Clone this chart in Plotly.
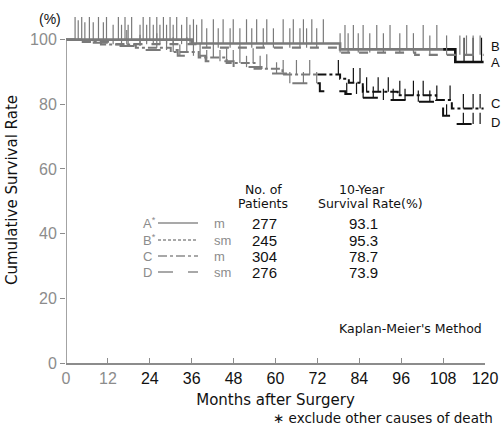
import plotly.graph_objects as go

# ---------------- data (months, %) ----------------
A_t = [0, 36, 78.5, 111.5]
A_s = [100, 98.8, 97.0, 93.1]
B_t = [0, 4, 12, 38, 78.5, 100]
B_s = [100, 99.4, 98.6, 97.5, 96.0, 95.3]
C_t = [0, 4, 10, 20, 30, 38, 46, 54, 62, 78.5, 81, 85, 95, 106, 110.5]
C_s = [100, 99.3, 98.5, 97.5, 96.2, 94.5, 92.8, 91.0, 89.2, 87.9, 86.7, 83.9, 82.8, 81.3, 78.7]
D_t = [0, 5, 12, 22, 32, 40, 48, 56, 64, 72.7, 80, 85, 90, 100, 106, 108, 110.5]
D_s = [100, 99.0, 98.0, 96.8, 95.0, 93.3, 91.5, 89.5, 86.5, 84.0, 83.2, 82.0, 81.3, 80.8, 79.5, 76.5, 73.9]

A_cens = [2.6, 4.5, 6.7, 9.3, 11.6, 15, 16.9, 18.8, 22.1, 24, 26, 27.9, 29.8, 31.7, 34.6, 36.5,
          38.9, 42.2, 45, 47.9, 51.7, 54.6, 57.5, 62.2, 65.1, 68, 70.4, 73.7, 79.9, 82.3, 85.1,
          89, 92.8, 97.6, 102.3, 106.2, 114, 116.6, 119]
B_cens = [3.5, 5.4, 7.8, 10.7, 13.5, 15.9, 17.8, 21.2, 23.1, 25, 26.9, 28.8, 30.7, 33.1, 35.5,
          37.4, 40.3, 43.6, 47, 49.8, 53.2, 56.5, 59.4, 64.1, 67, 68.9, 71.8, 78.5, 80.8, 83.7,
          87, 90.9, 95.6, 99.5, 104.2, 109, 112.8, 114.7, 116.6, 118.6]
C_cens = [17.4, 26, 30.7, 34.6, 38.4, 42.2, 46, 49.8, 53.6, 57.5, 62.2, 66, 69.8, 78,
          82.3, 84.2, 86.1, 89.4, 92.3, 95.6, 99.5, 102.3, 106.2, 110, 113.8, 116.6, 118.6]
D_cens = [21.2, 28.8, 32.6, 36.5, 40.3, 44.1, 47.9, 51.7, 55.6, 60.3, 64.1, 68, 71.8,
          80.4, 83.2, 85.1, 88, 90.9, 93.7, 97.1, 100.9, 104.2, 109, 113.8, 116.6, 118.6]

groups = ["A", "B", "C", "D"]
kinds = ["m", "sm", "m", "sm"]
n_patients = [277, 245, 304, 276]
rate10 = ["93.1", "95.3", "78.7", "73.9"]
x_ticks = [0, 12, 24, 36, 48, 60, 72, 84, 96, 108, 120]
y_ticks = [0, 20, 40, 60, 80, 100]

# ---------------- style ----------------
GRAY = "#8c8c8c"
DGRAY = "#7a7a7a"
BLACK = "#111111"
FONT = "Liberation Sans, Arial, sans-serif"
WFONT = "DejaVu Sans, Verdana, sans-serif"
T_END = 119.6

curves = [
    (A_t, A_s, A_cens, "solid", 108, 7.5, 2.6),
    (B_t, B_s, B_cens, "dash", 200, 6.0, 2.2),
    (C_t, C_s, C_cens, "dashdot", 72, 4.5, 2.0),
    (D_t, D_s, D_cens, "longdash", 72, 3.5, 2.0),
]


def surv_at(t, s, c):
    v = s[0]
    for ti, si in zip(t, s):
        if ti <= c:
            v = si
    return v


fig = go.Figure()
for (t, s, cens, dash, split, h, w) in curves:
    xs1 = [ti for ti in t if ti < split]
    ys1 = [si for ti, si in zip(t, s) if ti < split]
    end1 = min(split, T_END)
    xs1.append(end1)
    ys1.append(surv_at(t, s, end1))
    fig.add_trace(go.Scatter(x=xs1, y=ys1, mode="lines", line_shape="hv",
                             line=dict(color=DGRAY, width=w, dash=dash),
                             hoverinfo="skip", showlegend=False))
    if split < T_END:
        xs2 = [split] + [ti for ti in t if ti > split] + [T_END]
        ys2 = [surv_at(t, s, split)] + [si for ti, si in zip(t, s) if ti > split] + [s[-1]]
        fig.add_trace(go.Scatter(x=xs2, y=ys2, mode="lines", line_shape="hv",
                                 line=dict(color=BLACK, width=w, dash=dash),
                                 hoverinfo="skip", showlegend=False))
    for part, col in ((lambda c: c < split, DGRAY), (lambda c: c >= split, BLACK)):
        cx, cy = [], []
        for c in cens:
            if part(c):
                v = surv_at(t, s, c)
                cx += [c, c, None]
                cy += [v, v + h, None]
        if cx:
            fig.add_trace(go.Scatter(x=cx, y=cy, mode="lines",
                                     line=dict(color=col, width=1.2),
                                     hoverinfo="skip", showlegend=False))

L, R, T, B = 66, 485, 17, 363


def px(x):
    return (x - L) / (R - L)


def py(y):
    return (B - y) / (B - T)


shapes = [dict(type="line", xref="x", yref="y", x0=0, x1=0, y0=0, y1=100,
               line=dict(color=GRAY, width=1.6))]
ann = []
end_label_y = {"B": 46, "A": 63, "C": 104, "D": 122}
for g in groups:
    ann.append(dict(x=px(489), y=py(end_label_y[g]), xref="paper", yref="paper", text=g,
                    showarrow=False, xanchor="left", yanchor="middle",
                    font=dict(size=13, color=BLACK, family=FONT)))
for txt, xx, yy in [("No. of", 263, 189), ("Patients", 263, 203),
                    ("10-Year", 362, 189), ("Survival Rate(%)", 370, 203)]:
    ann.append(dict(x=px(xx), y=py(yy), xref="paper", yref="paper", text=txt,
                    showarrow=False, xanchor="center", yanchor="middle",
                    font=dict(size=12.5, color=BLACK, family=WFONT)))
row_y = [223, 240, 256, 272]
dashes = ["solid", "3px,2px", "dashdot", "longdash"]
for i in range(4):
    yy = row_y[i]
    label = groups[i] + ("<sup>*</sup>" if i < 2 else "")
    ann.append(dict(x=px(141), y=py(yy), xref="paper", yref="paper", text=label,
                    showarrow=False, xanchor="left", yanchor="middle",
                    font=dict(size=13, color=GRAY, family=FONT)))
    ann.append(dict(x=px(212), y=py(yy), xref="paper", yref="paper", text=kinds[i],
                    showarrow=False, xanchor="left", yanchor="middle",
                    font=dict(size=13, color=GRAY, family=FONT)))
    ann.append(dict(x=px(264), y=py(yy), xref="paper", yref="paper", text=str(n_patients[i]),
                    showarrow=False, xanchor="center", yanchor="middle",
                    font=dict(size=15, color=BLACK, family=FONT)))
    ann.append(dict(x=px(363), y=py(yy), xref="paper", yref="paper", text=rate10[i],
                    showarrow=False, xanchor="center", yanchor="middle",
                    font=dict(size=15, color=BLACK, family=FONT)))
    shapes.append(dict(type="line", xref="paper", yref="paper",
                       x0=px(158), x1=px(198), y0=py(yy), y1=py(yy),
                       line=dict(color=GRAY, width=1.4, dash=dashes[i])))

ann.append(dict(x=px(484), y=py(328), xref="paper", yref="paper", text="Kaplan-Meier's Method",
                showarrow=False, xanchor="right", yanchor="middle",
                font=dict(size=12.5, color=BLACK, family=WFONT)))
ann.append(dict(x=px(495), y=py(418), xref="paper", yref="paper",
                text="∗ exclude other causes of death",
                showarrow=False, xanchor="right", yanchor="middle",
                font=dict(size=13.5, color=BLACK, family=WFONT)))
ann.append(dict(x=px(50), y=py(19), xref="paper", yref="paper", text="(%)",
                showarrow=False, xanchor="center", yanchor="middle",
                font=dict(size=14, color=BLACK, family=FONT)))

x_ticktext = [(f'<span style="color:{GRAY}">{v}</span>' if v <= 12 else str(v)) for v in x_ticks]

fig.update_layout(
    width=502, height=435,
    margin=dict(l=L, r=502 - R, t=T, b=435 - B, autoexpand=False),
    paper_bgcolor="white", plot_bgcolor="white",
    font=dict(family=FONT, color=BLACK),
    shapes=shapes, annotations=ann,
    xaxis=dict(range=[0, 120], tickvals=x_ticks, ticktext=x_ticktext, automargin=False,
               ticks="inside", ticklen=5, tickcolor=GRAY, tickwidth=1.2,
               showline=True, linecolor=GRAY, linewidth=1.6, showgrid=False,
               zeroline=False, tickfont=dict(size=16, color=BLACK, family=FONT),
               title=dict(text="Months after Surgery", standoff=8,
                          font=dict(size=15, color=BLACK, family=WFONT))),
    yaxis=dict(range=[0, 107], tickvals=y_ticks, ticks="outside", ticklen=5, automargin=False,
               tickcolor=GRAY, tickwidth=1.2, showline=False, showgrid=False,
               zeroline=False, tickfont=dict(size=16, color=GRAY, family=FONT),
               title=dict(text="Cumulative Survival Rate", standoff=8,
                          font=dict(size=15, color=BLACK, family=WFONT))),
)

fig.write_html("out.html", config={"displayModeBar": False},
               post_script="document.body.style.margin='0';document.body.style.overflow='hidden';")
